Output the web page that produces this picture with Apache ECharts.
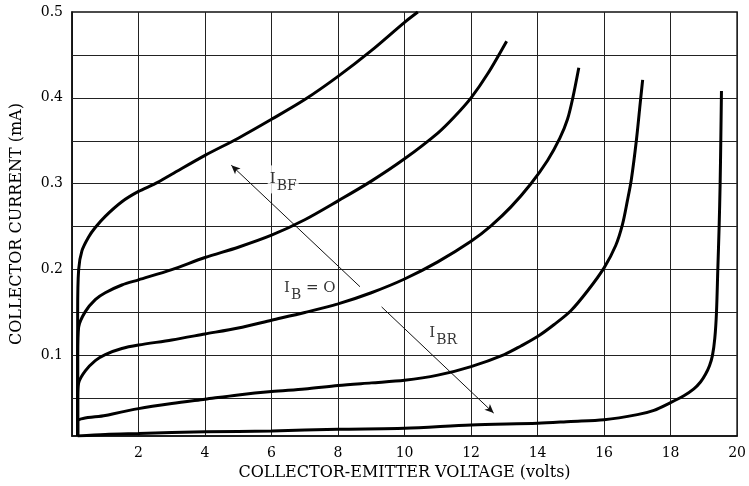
<!DOCTYPE html>
<html>
<head>
<meta charset="utf-8">
<script src="https://cdn.jsdelivr.net/npm/echarts@6/dist/echarts.min.js"></script>
<style>
  html, body { margin: 0; padding: 0; background: #fff; }
  #chart { width: 749px; height: 486px; }
</style>
</head>
<body>
<div id="chart"></div>
<script>
  // curves, [volts, mA]
  var curve1 = [[0.17,0.006],[0.17,0.15],[0.2,0.2],[0.3,0.222],[0.5,0.238],[0.7,0.249],[1,0.262],[1.5,0.279],[2,0.291],[2.5,0.300],[3,0.311],[4,0.333],[5,0.353],[6,0.375],[7,0.398],[8,0.425],[9,0.455],[10,0.488],[10.4,0.5]];
  var curve2 = [[0.17,0.006],[0.17,0.10],[0.2,0.133],[0.4,0.151],[0.7,0.165],[1,0.173],[1.5,0.182],[2,0.188],[3,0.200],[4,0.214],[5,0.226],[6,0.240],[7,0.258],[8,0.280],[9,0.303],[10,0.329],[11,0.359],[11.5,0.378],[12,0.400],[12.5,0.428],[13.07,0.466]];
  var curve3 = [[0.17,0.006],[0.17,0.05],[0.2,0.068],[0.4,0.082],[0.7,0.094],[1,0.101],[1.5,0.108],[2,0.112],[3,0.118],[4,0.125],[5,0.132],[6,0.141],[7,0.150],[8,0.160],[9,0.173],[10,0.189],[11,0.209],[12,0.233],[12.6,0.251],[13.2,0.273],[13.8,0.300],[14.3,0.327],[14.67,0.353],[14.9,0.375],[15.06,0.400],[15.24,0.435]];
  var curve4 = [[0.17,0.006],[0.17,0.023],[1,0.030],[2,0.038],[3,0.044],[4,0.049],[5,0.054],[6,0.058],[7,0.061],[8,0.065],[9,0.068],[10,0.071],[11,0.077],[12,0.087],[13,0.101],[13.5,0.111],[14,0.122],[14.5,0.136],[15,0.152],[15.5,0.175],[16,0.202],[16.35,0.228],[16.55,0.252],[16.7,0.280],[16.82,0.305],[16.97,0.350],[17.09,0.395],[17.16,0.421]];
  var curve5 = [[0.17,0.006],[1,0.008],[2,0.009],[4,0.011],[6,0.012],[8,0.014],[10,0.015],[12,0.019],[14,0.021],[15,0.023],[16,0.025],[17,0.031],[17.5,0.036],[18,0.045],[18.4,0.053],[18.7,0.061],[18.9,0.069],[19.05,0.078],[19.17,0.088],[19.26,0.100],[19.33,0.120],[19.38,0.150],[19.42,0.200],[19.46,0.250],[19.49,0.300],[19.51,0.350],[19.53,0.408]];

  var yLabels = [0.1, 0.2, 0.3, 0.4, 0.5];
  var yGrid = [0.05, 0.1, 0.15, 0.2, 0.25, 0.3, 0.35, 0.4, 0.45];

  // arrows: from -> to
  var arrowBF = [[8.66, 0.180], [4.79, 0.3215]];
  var arrowBR = [[9.31, 0.1565], [12.68, 0.0328]];

  // annotation text: [x, y, main, subscript, suffix]
  var notes = [
    [6.35, 0.305, 'I', 'BF', ''],
    [7.15, 0.178, 'I', 'B', ' = O'],
    [11.16, 0.126, 'I', 'BR', '']
  ];

  var serif = '"DejaVu Serif", "Liberation Serif", serif';
  var chart = echarts.init(document.getElementById('chart'));

  var curveSeries = [curve1, curve2, curve3, curve4, curve5].map(function (d, i) {
    return {
      name: 'c' + i,
      type: 'line',
      data: d,
      smooth: 0.3,
      showSymbol: false,
      lineStyle: { color: '#000', width: 3 },
      z: 5
    };
  });

  var option = {
    animation: false,
    grid: { left: 72, right: 9, top: 12, bottom: 48, show: true, borderColor: '#111', borderWidth: 1.5 },
    xAxis: {
      type: 'value', min: 0, max: 20, interval: 2,
      name: 'COLLECTOR-EMITTER VOLTAGE (volts)', nameLocation: 'middle', nameGap: 26,
      nameTextStyle: { fontFamily: serif, fontSize: 16, color: '#000' },
      axisLine: { onZero: false, lineStyle: { color: '#111', width: 1.5 } },
      axisTick: { show: false },
      axisLabel: { fontFamily: serif, fontSize: 14, color: '#000', margin: 10,
        formatter: function (v) { return v === 0 ? '' : String(v); } },
      splitLine: { show: true, lineStyle: { color: '#222', width: 1 } }
    },
    yAxis: {
      type: 'value', min: 0.006, max: 0.5,
      name: 'COLLECTOR CURRENT (mA)', nameLocation: 'middle', nameGap: 47, nameRotate: 90,
      nameTextStyle: { fontFamily: serif, fontSize: 16, color: '#000' },
      axisLine: { show: true, lineStyle: { color: '#111', width: 1.5 } },
      axisTick: { show: false },
      axisLabel: { customValues: yLabels, fontFamily: serif, fontSize: 14, color: '#000', margin: 9,
        formatter: function (v) { return v.toFixed(1); } },
      splitLine: { show: false }
    },
    series: [
      {
        name: 'grid',
        type: 'line',
        data: [],
        silent: true,
        markLine: {
          silent: true,
          symbol: ['none', 'none'],
          label: { show: false },
          lineStyle: { color: '#222', width: 1, type: 'solid' },
          data: yGrid.map(function (v) { return { yAxis: v }; })
        }
      },
      {
        name: 'arrows',
        type: 'line',
        data: [],
        silent: true,
        markLine: {
          silent: true,
          symbol: ['none', 'arrow'],
          symbolSize: [6, 9],
          label: { show: false },
          lineStyle: { color: '#111', width: 1, type: 'solid' },
          data: [arrowBF, arrowBR].map(function (a) {
            return [{ coord: a[0] }, { coord: a[1] }];
          })
        },
        z: 4
      }
    ].concat(curveSeries).concat([
      {
        name: 'notes',
        type: 'scatter',
        symbolSize: 0,
        z: 6,
        data: notes.map(function (n) { return { value: [n[0], n[1]], n: n }; }),
        label: {
          show: true,
          position: 'inside',
          backgroundColor: '#fff',
          padding: [0, 2, 0, 2],
          formatter: function (p) {
            var n = p.data.n;
            return '{i|' + n[2] + '}{s|' + n[3] + '}' + (n[4] ? '{t|' + n[4] + '}' : '');
          },
          rich: {
            i: { fontFamily: serif, fontSize: 15, color: '#000' },
            s: { fontFamily: serif, fontSize: 14, color: '#000', padding: [14, 0, 0, 1] },
            t: { fontFamily: serif, fontSize: 15, color: '#000' }
          }
        }
      }
    ])
  };

  chart.setOption(option);
</script>
</body>
</html>
